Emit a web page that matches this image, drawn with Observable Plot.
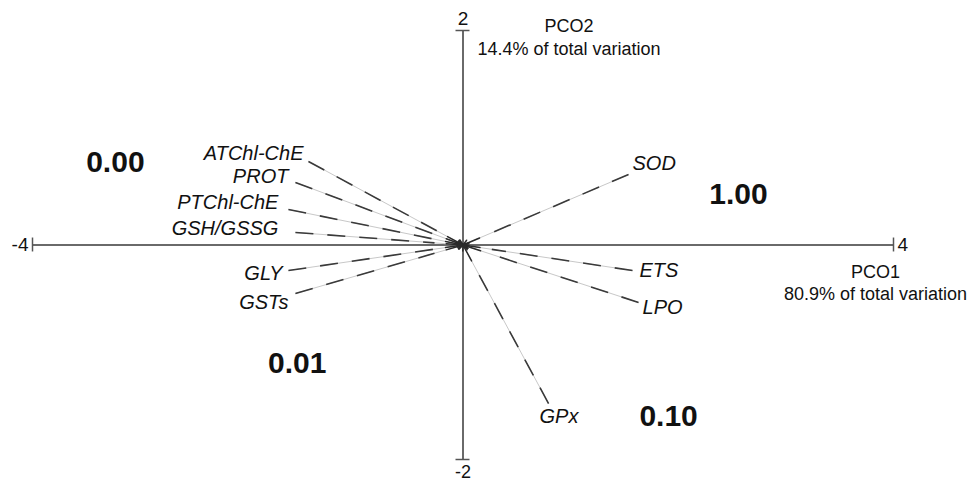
<!DOCTYPE html>
<html>
<head>
<meta charset="utf-8">
<script src="https://cdn.jsdelivr.net/npm/d3@7"></script>
<script src="https://cdn.jsdelivr.net/npm/@observablehq/plot@0.6"></script>
<style>
  html, body { margin: 0; padding: 0; background: #fff; }
  svg { display: block; }
</style>
</head>
<body>
<div id="chart"></div>
<script>
// Vector variables and their PCO1/PCO2 coordinates
const variables = ["ATChl-ChE", "PROT", "PTChl-ChE", "GSH/GSSG", "GLY", "GSTs", "SOD", "ETS", "LPO", "GPx"];
const pco1 = [-1.436, -1.557, -1.622, -1.557, -1.622, -1.557, 1.538, 1.575, 1.631, 0.795];
const pco2 = [0.779, 0.583, 0.331, 0.117, -0.238, -0.452, 0.657, -0.238, -0.536, -1.478];
// label anchor positions (PCO units)
const labelX = [-1.482, -1.622, -1.715, -1.715, -1.677, -1.622, 1.575, 1.640, 1.668, 0.711];
const labelY = [0.853, 0.639, 0.396, 0.154, -0.266, -0.536, 0.760, -0.238, -0.583, -1.604];

// Quadrant annotations
const quadLabels = ["0.00", "1.00", "0.01", "0.10"];
const quadX = [-3.23, 2.56, -1.54, 1.91];
const quadY = [0.77, 0.47, -1.105, -1.60];

// Axis ticks
const xTicks = [-4, 4];
const yTicks = [-2, 2];
const xTitle = "PCO1\n80.9% of total variation";
const yTitle = "PCO2\n14.4% of total variation";

try {
const vecs = variables.map((v, i) => ({name: v, x: pco1[i], y: pco2[i], lx: labelX[i], ly: labelY[i]}));
const quads = quadLabels.map((t, i) => ({t, x: quadX[i], y: quadY[i]}));
const f = 0.17;
const tk = 0.065;

const chart = Plot.plot({
  width: 973,
  height: 483,
  marginLeft: 32,
  marginRight: 80,
  marginTop: 30,
  marginBottom: 24,
  x: {domain: [-4, 4], axis: null},
  y: {domain: [-2, 2], axis: null},
  style: {fontFamily: "'Liberation Sans', Arial, sans-serif", background: "#fff"},
  marks: [
    // axes
    Plot.ruleY([0], {x1: xTicks[0], x2: xTicks[1], stroke: "#6a6a6a", strokeWidth: 2}),
    Plot.ruleX([0], {y1: yTicks[0], y2: yTicks[1], stroke: "#6a6a6a", strokeWidth: 2}),
    Plot.ruleX(xTicks, {x: d => d, y1: -tk, y2: tk, stroke: "#555", strokeWidth: 1.5}),
    Plot.ruleY(yTicks, {y: d => d, x1: -tk, x2: tk, stroke: "#555", strokeWidth: 1.5}),
    // vectors: light full line
    Plot.link(vecs, {x1: () => 0, y1: () => 0, x2: "x", y2: "y", stroke: "#c8c8c8", strokeWidth: 1}),
    // dark dashes
    Plot.link(vecs, {x1: "x", y1: "y", x2: d => d.x * f, y2: d => d.y * f, stroke: "#3a3a3a", strokeWidth: 1.6, strokeDasharray: "18,14"}),
    // arrowheads at origin
    Plot.arrow(vecs, {x1: d => d.x * 0.1, y1: d => d.y * 0.1, x2: () => 0, y2: () => 0, stroke: "#2a2a2a", strokeWidth: 1.5, headLength: 9}),
    // vector labels
    Plot.text(vecs.filter(d => d.x < 0), {x: "lx", y: "ly", text: "name", textAnchor: "end", fontSize: 20, fontStyle: "italic", fill: "#111"}),
    Plot.text(vecs.filter(d => d.x >= 0), {x: "lx", y: "ly", text: "name", textAnchor: "start", fontSize: 20, fontStyle: "italic", fill: "#111"}),
    // tick labels
    Plot.text([xTicks[0]], {x: d => d, y: () => 0, text: d => String(d), textAnchor: "end", dx: -4, fontSize: 19, fill: "#111"}),
    Plot.text([xTicks[1]], {x: d => d, y: () => 0, text: d => String(d), textAnchor: "start", dx: 4, fontSize: 19, fill: "#111"}),
    Plot.text([yTicks[1]], {x: () => 0, y: d => d, text: d => String(d), dy: -12, fontSize: 19, fill: "#111"}),
    Plot.text([yTicks[0]], {x: () => 0, y: d => d, text: d => String(d), dy: 13, fontSize: 18, fill: "#111"}),
    // axis titles
    Plot.text([xTitle], {x: () => xTicks[1], y: () => 0, text: d => d, dx: -18, dy: 37, lineHeight: 1.2, fontSize: 18, fill: "#111"}),
    Plot.text([yTitle], {x: () => 0, y: () => yTicks[1], text: d => d, dx: 106, dy: 6, lineHeight: 1.25, fontSize: 18, fill: "#111"}),
    // quadrant values
    Plot.text(quads, {x: "x", y: "y", text: "t", fontSize: 30, fontWeight: "bold", fill: "#111"})
  ]
});
document.getElementById("chart").appendChild(chart);
} catch (e) {
  document.getElementById("chart").textContent = "ERROR: " + e.message;
}
</script>
</body>
</html>
